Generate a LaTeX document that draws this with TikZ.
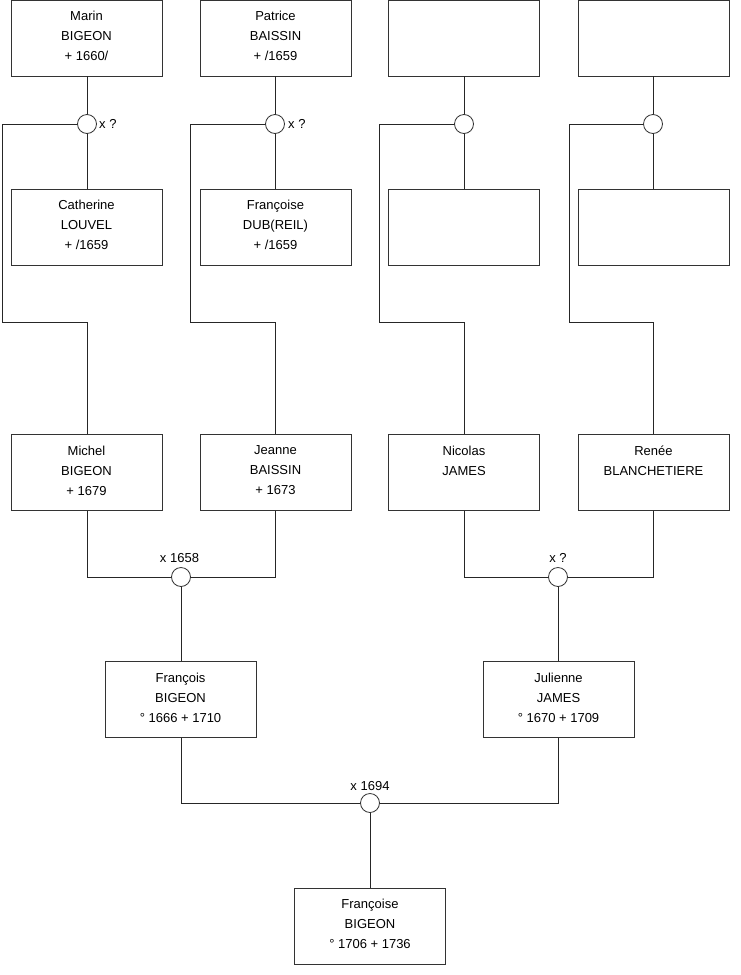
\documentclass[tikz,border=0pt]{standalone}
\usepackage{fontspec}
\setmainfont{Liberation Sans}
\newcommand{\ptxt}[3]{#1\\#2\\#3\\[-16pt]\mbox{}}
\begin{document}
\begin{tikzpicture}[x=1pt,y=-1pt,
 person/.style={draw=black!80, line width=0.8pt, minimum width=151pt, minimum height=76pt, inner sep=0pt, align=center, font=\fontsize{13}{20}\selectfont, fill=white},
 union/.style={draw=black!80, circle, minimum size=19pt, inner sep=0pt, line width=0.8pt, fill=white},
 link/.style={draw=black!85, line width=0.8pt},
 lab/.style={font=\fontsize{13}{15}\selectfont, inner sep=0pt}]
\useasboundingbox (0,0) rectangle (740,975);
\fill[white] (0,0) rectangle (740,975);

% generation 1 (top)
\node[person] (marin) at (86.5,38) {\ptxt{Marin}{BIGEON}{+ 1660/}};
\node[person] (patrice) at (275.5,38) {\ptxt{Patrice}{BAISSIN}{+ /1659}};
\node[person] (p3) at (464,38) {};
\node[person] (p4) at (653.5,38) {};

\node[person] (catherine) at (86.5,227) {\ptxt{Catherine}{LOUVEL}{+ /1659}};
\node[person] (francoiseD) at (275.5,227) {\ptxt{Françoise}{DUB(REIL)}{+ /1659}};
\node[person] (p3b) at (464,227) {};
\node[person] (p4b) at (653.5,227) {};

\node[union] (u1) at (87,124) {};
\node[union] (u2) at (275,124) {};
\node[union] (u3) at (464,124) {};
\node[union] (u4) at (653,124) {};
\node[lab, anchor=west] (l1) at (99,124) {x ?};
\node[lab, anchor=west] (l2) at (288,124) {x ?};

% generation 2
\node[person] (michel) at (86.5,472.5) {\ptxt{Michel}{BIGEON}{+ 1679}};
\node[person] (jeanne) at (275.5,472.5) {\ptxt{Jeanne}{BAISSIN}{+ 1673}};
\node[person] (nicolas) at (464,472.5) {\ptxt{Nicolas}{JAMES}{\mbox{}}};
\node[person] (renee) at (653.5,472.5) {\ptxt{Renée}{BLANCHETIERE}{\mbox{}}};

\node[union] (u5) at (181,577) {};
\node[union] (u6) at (558,577) {};
\node[lab] (l5) at (179.5,558) {x 1658};
\node[lab] (l6) at (558,558) {x ?};

% generation 3
\node[person] (francois) at (180.5,699.5) {\ptxt{François}{BIGEON}{° 1666 + 1710}};
\node[person] (julienne) at (558.5,699.5) {\ptxt{Julienne}{JAMES}{° 1670 + 1709}};

\node[union] (u7) at (370,803) {};
\node[lab] (l7) at (370,786) {x 1694};

% generation 4
\node[person] (francoise) at (370,926) {\ptxt{Françoise}{BIGEON}{° 1706 + 1736}};

% links top
\draw[link] (marin.south -| u1) -- (u1.north);
\draw[link] (u1.south) -- (catherine.north -| u1);
\draw[link] (patrice.south -| u2) -- (u2.north);
\draw[link] (u2.south) -- (francoiseD.north -| u2);
\draw[link] (p3.south -| u3) -- (u3.north);
\draw[link] (u3.south) -- (p3b.north -| u3);
\draw[link] (p4.south -| u4) -- (u4.north);
\draw[link] (u4.south) -- (p4b.north -| u4);

\draw[link] (u1.west) -- (2,124) -- (2,322) -| (michel.north -| u1);
\draw[link] (u2.west) -- (190,124) -- (190,322) -| (jeanne.north -| u2);
\draw[link] (u3.west) -- (379,124) -- (379,322) -| (nicolas.north -| u3);
\draw[link] (u4.west) -- (569,124) -- (569,322) -| (renee.north -| u4);

% links middle
\draw[link] (michel.south -| u1) |- (u5.west);
\draw[link] (jeanne.south -| u2) |- (u5.east);
\draw[link] (u5.south) -- (francois.north -| u5);
\draw[link] (nicolas.south -| u3) |- (u6.west);
\draw[link] (renee.south -| u4) |- (u6.east);
\draw[link] (u6.south) -- (julienne.north -| u6);

% links bottom
\draw[link] (francois.south -| u5) |- (u7.west);
\draw[link] (julienne.south -| u6) |- (u7.east);
\draw[link] (u7.south) -- (francoise.north -| u7);
\end{tikzpicture}
\end{document}
